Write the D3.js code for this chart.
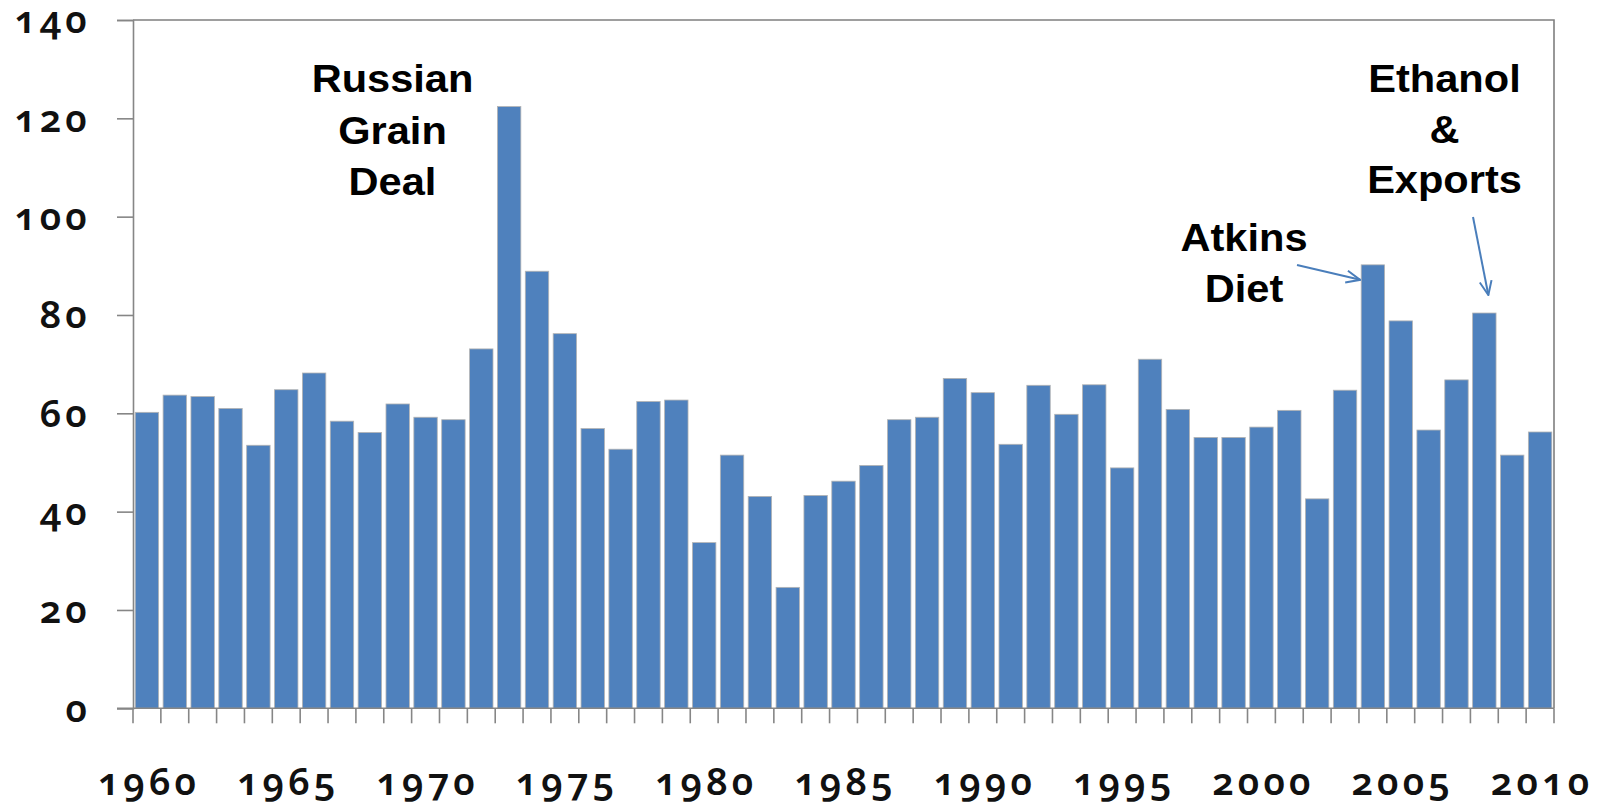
<!DOCTYPE html>
<html>
<head>
<meta charset="utf-8">
<script src="https://cdn.jsdelivr.net/npm/d3@7"></script>
<style>
  html, body { margin: 0; padding: 0; background: #fff; }
  svg { display: block; }
  .num { font-family: "Noto Sans", "Open Sans", sans-serif; font-weight: 600; font-variant-numeric: oldstyle-nums; font-feature-settings: "onum" 1; fill: #111; letter-spacing: 4px; }
  .ann { font-family: "Liberation Sans", Arial, sans-serif; font-weight: 700; fill: #000; }
</style>
</head>
<body>
<script>
// ---- data ----
const years = d3.range(1960, 2011);
const values = [
  60.2, 63.7, 63.4, 61.0, 53.5, 64.8, 68.2, 58.4, 56.1, 61.9,
  59.2, 58.7, 73.1, 122.4, 88.9, 76.2, 56.9, 52.7, 62.4, 62.7,
  33.7, 51.5, 43.1, 24.6, 43.3, 46.2, 49.4, 58.7, 59.2, 67.1,
  64.2, 53.7, 65.7, 59.8, 65.8, 48.9, 71.0, 60.8, 55.1, 55.1,
  57.2, 60.6, 42.6, 64.7, 90.2, 78.8, 56.6, 66.8, 80.4, 51.5,
  56.2
];
const yTicks = [0, 20, 40, 60, 80, 100, 120, 140];
const xTickLabels = [1960, 1965, 1970, 1975, 1980, 1985, 1990, 1995, 2000, 2005, 2010];
const annRussian = ["Russian", "Grain", "Deal"];
const annEthanol = ["Ethanol", "&", "Exports"];
const annAtkins = ["Atkins", "Diet"];

// ---- layout ----
const W = 1604, H = 808;
const mLeft = 133, mRight = 1554, mTop = 20, mBottom = 708.3;
const barColor = "#4F81BD";
const axisColor = "#868686";

const svg = d3.select("body").append("svg").attr("width", W).attr("height", H);

const x = d3.scaleBand().domain(years).range([mLeft, mRight]).paddingInner(0.16).paddingOuter(0.08);
const y = d3.scaleLinear().domain([0, 140]).range([mBottom, mTop]);

// bars
svg.append("g").selectAll("rect").data(years).join("rect")
  .attr("x", d => x(d))
  .attr("width", x.bandwidth())
  .attr("y", (d, i) => y(values[i]))
  .attr("height", (d, i) => y(0) - y(values[i]))
  .attr("fill", barColor)
  .attr("stroke", "#b4b4b4")
  .attr("stroke-width", 0.8);

// plot border (top & right)
svg.append("path")
  .attr("d", `M${mLeft},${mTop}H${mRight}V${mBottom}`)
  .attr("fill", "none").attr("stroke", "#7f7f7f").attr("stroke-width", 1.6);

// y axis
const yAxis = d3.axisLeft(y).tickValues(yTicks).tickSize(16).tickPadding(26).tickFormat(d3.format("d"));
const gy = svg.append("g").attr("transform", `translate(${mLeft},0)`).call(yAxis);
gy.select(".domain").attr("stroke", axisColor).attr("stroke-width", 1.6);
gy.selectAll(".tick line").attr("stroke", axisColor).attr("stroke-width", 1.6);
gy.selectAll(".tick text").attr("class", "num").attr("font-size", 38).attr("dy", "0.34em").attr("fill", "#111");

// x axis: ticks at category boundaries
const boundaries = years.map(d => x(d) - x.step() * x.paddingInner() / 2).concat([mRight]);
const gx = svg.append("g");
gx.append("line").attr("x1", mLeft - 16).attr("x2", mRight).attr("y1", mBottom).attr("y2", mBottom)
  .attr("stroke", axisColor).attr("stroke-width", 1.6);
gx.selectAll("line.tk").data(boundaries).join("line").attr("class", "tk")
  .attr("x1", d => d).attr("x2", d => d).attr("y1", mBottom).attr("y2", mBottom + 15)
  .attr("stroke", axisColor).attr("stroke-width", 1.6);
gx.selectAll("text").data(xTickLabels).join("text")
  .attr("class", "num")
  .attr("x", d => x(d) + x.bandwidth() / 2 + 2)
  .attr("y", 795)
  .attr("text-anchor", "middle")
  .attr("font-size", 38)
  .text(d => d);

// annotations
function annot(lines, cx, baseline0, lh) {
  const g = svg.append("g");
  lines.forEach((t, i) => {
    g.append("text").attr("class", "ann")
      .attr("transform", `translate(${cx},${baseline0 + i * lh}) scale(1.08,1)`)
      .attr("text-anchor", "middle")
      .attr("font-size", 38.5)
      .text(t);
  });
}
annot(annRussian, 392.5, 92.3, 51.4);
annot(annEthanol, 1444.5, 91.7, 50.8);
annot(annAtkins, 1244, 250.7, 51);

// arrows
const defs = svg.append("defs");
defs.append("marker").attr("id", "arr")
  .attr("viewBox", "0 0 16 14").attr("refX", 15).attr("refY", 7)
  .attr("markerWidth", 16).attr("markerHeight", 14)
  .attr("markerUnits", "userSpaceOnUse").attr("orient", "auto")
  .append("path").attr("d", "M1,1 L15,7 L1,13").attr("fill", "none")
  .attr("stroke", "#4A7EBB").attr("stroke-width", 2);

const i2004 = years.indexOf(2004), i2008 = years.indexOf(2008);
svg.append("line")
  .attr("x1", 1297).attr("y1", 265)
  .attr("x2", x(2004) - 1).attr("y2", y(values[i2004]) + 15)
  .attr("stroke", "#4A7EBB").attr("stroke-width", 2).attr("marker-end", "url(#arr)");
svg.append("line")
  .attr("x1", 1473).attr("y1", 217)
  .attr("x2", x(2008) + x.bandwidth() / 2 + 4).attr("y2", y(values[i2008]) - 18)
  .attr("stroke", "#4A7EBB").attr("stroke-width", 2).attr("marker-end", "url(#arr)");
</script>
</body>
</html>
